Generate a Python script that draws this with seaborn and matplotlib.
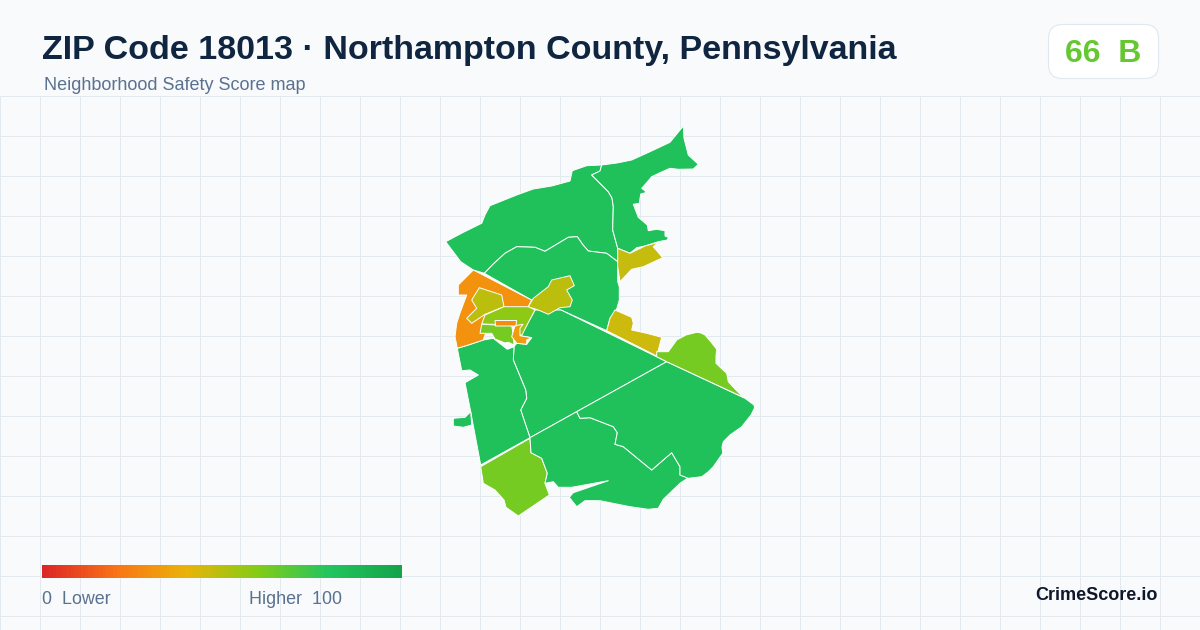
import numpy as np
import matplotlib.pyplot as plt
from matplotlib.patches import FancyBboxPatch
import seaborn as sns

# Block group outlines (x, y in picture pixels)
nw_green = [(445.7, 241.7), (463, 232.5), (481.7, 223.3), (485, 215), (490, 205.7), (516.7, 195), (533.3, 189), (551.7, 186),
            (570, 181), (572.3, 170.7), (586.7, 165.7), (601.7, 165), (600, 171), (591.7, 175), (600, 183.3), (608.3, 191.7),
            (612, 198), (613.3, 206.7), (612.7, 230), (617.7, 248.3), (617.7, 261.7), (606.7, 253.3), (588.3, 251),
            (583, 245), (577.3, 236.7), (568.3, 237.3), (545, 251.3), (535, 247.3), (516.7, 246.7), (505, 253.3),
            (493.3, 264), (484.3, 273.3), (473.3, 270), (460.7, 261.7)]
ne_green = [(601.7, 165), (617, 163), (631.7, 160), (650, 151.7), (670, 142.3), (683.3, 126), (684, 138.3), (688.3, 155),
            (698.3, 164.3), (693.3, 169), (678.3, 169.3), (670, 168.3), (660, 172.7), (651.7, 176.7),
            (646.7, 182.7), (641.7, 188.3), (646.7, 192.3), (640.7, 194), (639.3, 203.3), (633.3, 204.3),
            (638.3, 217.3), (647.3, 225), (648.3, 230.7), (656.7, 229.3), (665, 230.7), (665, 236),
            (668.3, 237.3), (667.3, 240), (658.3, 241.7), (645, 246), (636.7, 247.7), (630, 253.3), (617.7, 248.3),
            (612.7, 230), (613.3, 206.7), (612, 198), (608.3, 191.7), (600, 183.3), (591.7, 175), (600, 171)]
mid_green = [(484.3, 273.3), (493.3, 264), (505, 253.3), (516.7, 246.7), (535, 247.3), (545, 251.3),
             (568.3, 237.3), (577.3, 236.7), (583, 245), (588.3, 251), (606.7, 253.3), (617.7, 261.7), (617.7, 281.7),
             (619.3, 286.7), (619.3, 300), (616.7, 309), (610, 318.3), (606.7, 330.7), (561, 310), (535, 310),
             (531.5, 300)]
ne_gold = [(617.7, 248.3), (630, 253.3), (645, 246), (658.3, 242.3), (653.3, 246.7), (662.7, 257.7), (643.3, 266.7),
           (631.7, 269.3), (620, 281.7), (617.7, 266.7)]
town_olive = [(570, 275.7), (574.3, 285.7), (566.7, 290), (572.3, 300), (570, 306.7), (560, 307.7), (548.3, 314.3),
              (538.3, 310), (528.3, 306.7), (533.3, 298.3), (548.3, 286.7), (551.7, 280)]
west_orange = [(473.3, 270), (531.5, 300), (528.3, 306.7), (490, 320), (483.3, 340), (468.3, 345), (457.3, 348.3),
               (455, 336.7), (456.7, 323.3), (460, 313), (466.7, 295), (458.3, 295), (458.3, 285)]
inner_olive = [(479.3, 287.7), (501.7, 295), (504, 306.7), (485, 314.3), (471.7, 323.3), (466.7, 318.3), (476.7, 308.3),
               (471.7, 300)]
inner_lime = [(504, 306.7), (528.3, 306.7), (535, 310), (527, 325), (522, 335), (516, 335), (516, 325), (481.7, 324),
              (485, 315)]
strip_orange = [(495, 320.5), (516.5, 320.5), (516, 326), (495.5, 326)]
lower_lime = [(481.7, 324.3), (511.7, 325.7), (513.3, 335), (514, 345), (508.3, 342.3), (505, 343), (495, 339),
              (491.7, 333.3), (480, 333.3)]
small_orange = [(515, 325.7), (511.7, 336.7), (516.7, 343.3), (526.7, 344.3), (526.7, 340), (531.7, 337.7), (520, 335.7),
                (520, 328.3), (523, 324.3)]
center_green = [(535, 310), (561, 310), (666.7, 361.7), (576.7, 411.7), (530, 437.7), (520.7, 410), (526.7, 398.3),
                (525.7, 390), (513.3, 360), (514, 346.7), (516.7, 343.3), (526.7, 344.3), (531.7, 337.7), (520, 335.7),
                (526.7, 325)]
west_green = [(457.3, 348.3), (468.3, 345), (483.3, 340), (493.3, 338.3), (507.3, 349.3), (514, 346.7), (513.3, 360),
              (525.7, 390), (526.7, 398.3), (520.7, 410), (530, 437.7), (480.7, 465), (470.7, 411.7), (465, 382.7),
              (478.3, 375), (470, 370), (461.7, 370.7)]
exclave_green = [(470.7, 411.7), (465, 417.3), (453.3, 418.3), (453.3, 426), (463.3, 427.3), (471.7, 425)]
sw_lime = [(480.7, 466.7), (530, 438.3), (531, 452.7), (541.7, 458.3), (547.3, 473.3), (545, 483.3), (549.3, 495),
           (518.3, 516), (506, 507.3), (504, 500), (495, 490), (483.3, 483.3)]
south_green = [(576.7, 411.7), (530, 437.7), (531, 452.7), (541.7, 458.3), (547.3, 473.3), (545, 483.3), (553.3, 481.7),
               (558.3, 487.3), (571.7, 487.3), (608.3, 480.7), (573.3, 492.7), (569.3, 497.3), (576.7, 506.7),
               (585, 500.7), (600, 500.7), (630, 506.7), (648.3, 509.3), (658.3, 508.3), (663.3, 499.3), (680, 483.3),
               (688.3, 477.7), (680, 475), (680, 466.7), (671.7, 452.7), (651.7, 470), (623.3, 446.7), (615, 444.3),
               (617.3, 432.7), (613.3, 426.7), (590, 417.7), (580, 418.3)]
east_green = [(666.7, 361.7), (745, 398.3), (754, 405), (754.5, 408), (751, 415), (741.7, 426.7), (730, 435), (723.3, 441.7),
              (722, 447), (722.7, 453.3), (718, 460), (713.3, 466.7), (708, 472), (701.7, 476.7), (695, 477.5), (688.3, 478.3),
              (680, 475), (680, 466.7), (671.7, 452.7), (651.7, 470), (623.3, 446.7), (615, 444.3), (617.3, 432.7),
              (613.3, 426.7), (590, 417.7), (580, 418.3), (576.7, 411.7)]
se_gold = [(615, 310), (631.7, 317.3), (633.3, 323.3), (631.7, 330), (646.7, 333.3), (661.7, 337.3), (656.7, 356),
           (606.7, 330.7), (610, 318.3)]
se_lime = [(656.7, 351.7), (668.3, 351.7), (676.7, 340), (686, 335), (696.7, 332.3), (701, 333), (705, 335), (711, 342),
           (716.7, 349.3), (716, 356), (716, 363.3), (722, 369), (726.7, 373.3), (728.3, 381.7), (735, 389), (743.3, 397.3),
           (666.7, 361.7), (656.7, 356.7)]

# drawing order matters, the town pieces sit on top of the big tracts
regions = [nw_green, ne_green, mid_green, center_green, west_green, exclave_green, sw_lime, south_green, east_green,
           ne_gold, se_gold, se_lime, west_orange, inner_olive, town_olive, inner_lime, lower_lime, small_orange,
           strip_orange]
scores = [83, 83, 83, 83, 83, 83, 63, 83, 83, 47, 46, 63, 30, 49, 49, 58, 63, 33, 28]

score_stops = ['#dc2626', '#f97316', '#eab308', '#84cc16', '#22c55e', '#16a34a']
legend_scale = np.arange(0, 101)
grid_x = np.arange(0, 1201, 40)
grid_y = np.arange(96, 631, 40)

title = 'ZIP Code 18013 · Northampton County, Pennsylvania'
subtitle = 'Neighborhood Safety Score map'
score_text = '66  B'

sns.set_theme(style='white')
plt.rcParams['font.family'] = ['Liberation Sans', 'DejaVu Sans']

cmap = sns.blend_palette(score_stops, as_cmap=True)

fig = plt.figure(figsize=(12, 6.3), dpi=100, facecolor='#f8fafc')
ax = fig.add_axes([0, 0, 1, 1])
ax.set_facecolor('#f8fafc')
ax.set_xlim(0, 1200)
ax.set_ylim(630, 0)
ax.axis('off')

# Background grid only starts under the header
ax.vlines(grid_x, 96, 630, color='#e2eaf0', lw=0.72, zorder=1)
ax.hlines(grid_y, 0, 1200, color='#e2eaf0', lw=0.72, zorder=1)

# Map
for outline, score in zip(regions, scores):
    xs, ys = zip(*outline)
    ax.fill(xs, ys, facecolor=cmap(score / 100), edgecolor='white', lw=0.7, joinstyle='round', zorder=2)

# Header
ax.text(42, 50, title, fontsize=24.5, fontweight='bold', color='#0f2540', va='center', ha='left')
ax.text(44, 86, subtitle, fontsize=12.95, color='#5a7190', va='center', ha='left')

# Score badge
badge = FancyBboxPatch((1048.5, 24.5), 110, 54, boxstyle='round,pad=0,rounding_size=14',
                       facecolor='white', edgecolor='#e2e8f0', lw=0.8, zorder=3)
ax.add_patch(badge)
ax.text(1103, 53.5, score_text, fontsize=23, fontweight='bold', color='#65c832', va='center', ha='center', zorder=4)

# Legend
ax.text(42, 599, '0  Lower', fontsize=12.9, color='#5a7190', va='center', ha='left')
ax.text(249, 599, 'Higher  100', fontsize=12.9, color='#5a7190', va='center', ha='left')
ax.text(1158, 595, 'CrimeScore.io', fontsize=13, fontweight='bold', color='#0f172a', va='center', ha='right')

cax = fig.add_axes([42 / 1200, 1 - 578 / 630, 360 / 1200, 13 / 630])
sns.heatmap(legend_scale.reshape(1, -1), cmap=cmap, vmin=0, vmax=100, cbar=False, ax=cax,
            xticklabels=False, yticklabels=False)
cax.set_axis_off()

fig.savefig('out.png', dpi=100, facecolor=fig.get_facecolor())
